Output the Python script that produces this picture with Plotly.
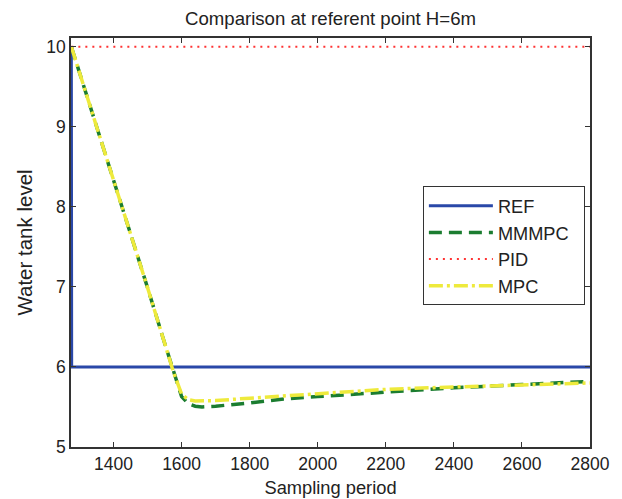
import plotly.graph_objects as go

# Data
ref_x = [1276, 1277, 2800]
ref_y = [10, 6, 6]

pid_x = [1276, 2800]
pid_y = [10, 10]

ctl_x = [1276, 1300, 1350, 1400, 1450, 1500, 1550, 1575, 1600, 1620, 1640, 1660,
         1700, 1800, 1900, 2000, 2200, 2400, 2600, 2800]
mmmpc_y = [10.0, 9.68, 9.0, 8.33, 7.66, 6.99, 6.30, 5.95, 5.63, 5.54, 5.51, 5.50,
           5.51, 5.55, 5.60, 5.63, 5.69, 5.74, 5.78, 5.82]
mpc_y = [10.0, 9.68, 9.0, 8.33, 7.66, 6.99, 6.30, 5.95, 5.66, 5.59, 5.575, 5.575,
         5.58, 5.61, 5.64, 5.67, 5.72, 5.75, 5.78, 5.80]

x_ticks = [1400, 1600, 1800, 2000, 2200, 2400, 2600, 2800]
y_ticks = [5, 6, 7, 8, 9, 10]

FONT = "Liberation Sans, Arial, sans-serif"
TXT = "#222222"
PAD = "\u00a0\u00a0"

fig = go.Figure()
fig.add_trace(go.Scatter(x=ref_x, y=ref_y, mode="lines", name="REF",
                         line=dict(color="#2a48a8", width=3)))
fig.add_trace(go.Scatter(x=ctl_x, y=mmmpc_y, mode="lines", name="MMMPC" + PAD,
                         line=dict(color="#1b7d30", width=3.5, dash="13px,7px")))
fig.add_trace(go.Scatter(x=pid_x, y=pid_y, mode="lines", name="PID",
                         line=dict(color="#ff3333", width=2, dash="2px,5px")))
fig.add_trace(go.Scatter(x=ctl_x, y=mpc_y, mode="lines", name="MPC",
                         line=dict(color="#eeea3c", width=3.5, dash="14px,4px,3px,4px")))

axis_common = dict(showgrid=False, zeroline=False, showline=True, linecolor="#333333",
                   linewidth=1.5, mirror="ticks", ticks="inside", ticklen=5, automargin=False,
                   tickcolor="#333333", tickfont=dict(family=FONT, size=17.5, color=TXT))

# page has an 8px body margin, so the figure is sized 8px smaller
fig.update_layout(
    width=614, height=491,
    margin=dict(l=63, r=32, t=30, b=52),
    paper_bgcolor="white", plot_bgcolor="white",
    title=dict(text="Comparison at referent point H=6m", x=0.5, xref="paper", xanchor="center",
               y=0.978, yanchor="middle", font=dict(family=FONT, size=18.6, color=TXT)),
    xaxis=dict(range=[1275, 2800], tickvals=x_ticks,
               title=dict(text="Sampling period", standoff=8,
                          font=dict(family=FONT, size=18.3, color=TXT)), **axis_common),
    yaxis=dict(range=[5, 10.11], tickvals=y_ticks,
               title=dict(text="Water tank level", standoff=8,
                          font=dict(family=FONT, size=20.5, color=TXT)), **axis_common),
    legend=dict(x=0.678, y=0.637, xanchor="left", yanchor="top", bgcolor="white",
                bordercolor="#333333", borderwidth=1, itemwidth=64,
                font=dict(family=FONT, size=18.2, color=TXT), tracegroupgap=0),
    showlegend=True,
)

fig.write_html("out.html")
